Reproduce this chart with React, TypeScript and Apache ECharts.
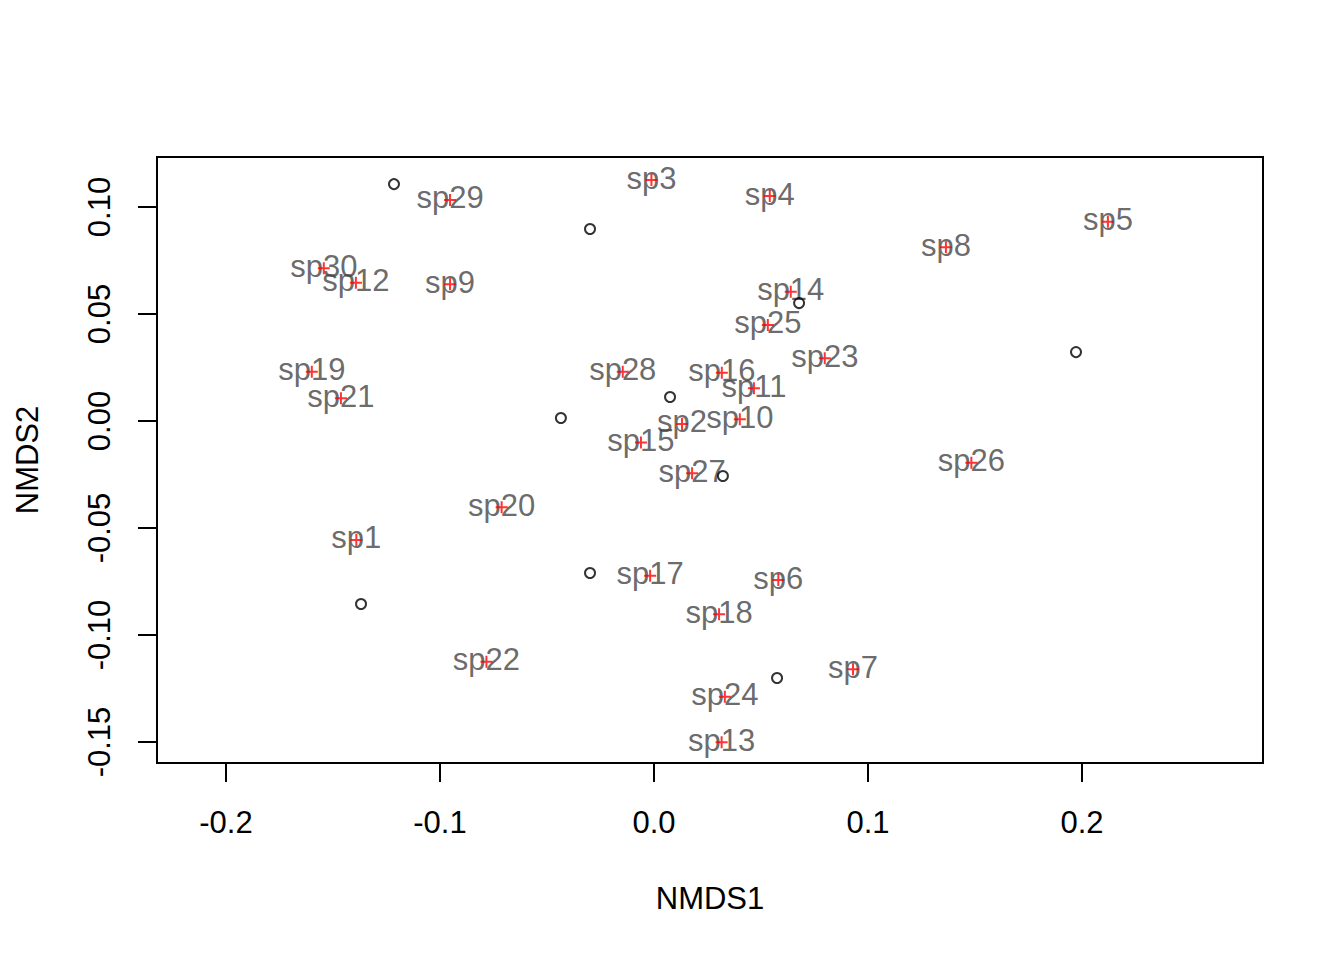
import React, { useEffect, useRef } from "react";
import * as echarts from "echarts";

const siteX = [-0.1215, -0.0299, 0.0075, -0.0435, 0.0678, 0.1972, 0.0322, -0.1369, -0.0299, 0.0575];
const siteY = [0.1107, 0.0897, 0.0112, 0.0014, 0.0551, 0.0322, -0.0257, -0.0855, -0.071, -0.1201];

const speciesNames = [
  "sp1", "sp2", "sp3", "sp4", "sp5", "sp6", "sp7", "sp8", "sp9", "sp10",
  "sp11", "sp12", "sp13", "sp14", "sp15", "sp16", "sp17", "sp18", "sp19", "sp20",
  "sp21", "sp22", "sp23", "sp24", "sp25", "sp26", "sp27", "sp28", "sp29", "sp30",
];
const speciesX = [
  -0.1391, 0.0131, -0.0012, 0.0541, 0.2121, 0.0581, 0.093, 0.1364, -0.0953, 0.0401,
  0.0467, -0.1393, 0.0316, 0.0639, -0.0061, 0.0317, -0.0018, 0.0304, -0.1599, -0.0712,
  -0.1463, -0.0783, 0.0798, 0.0331, 0.0532, 0.1483, 0.0178, -0.0146, -0.0953, -0.1543,
];
const speciesY = [
  -0.0556, -0.0014, 0.1126, 0.1051, 0.0931, -0.0743, -0.116, 0.0812, 0.0639, 0.0008,
  0.0153, 0.0646, -0.1501, 0.0604, -0.0101, 0.0226, -0.0723, -0.0903, 0.023, -0.0403,
  0.0106, -0.1125, 0.0293, -0.1288, 0.0449, -0.0195, -0.0244, 0.023, 0.1033, 0.0714,
];

const xTicks = [-0.2, -0.1, 0.0, 0.1, 0.2];
const yTicks = [-0.15, -0.1, -0.05, 0.0, 0.05, 0.1];

const FONT = "'Liberation Sans', Arial, sans-serif";

export default function App() {
  const ref = useRef<HTMLDivElement>(null);
  useEffect(() => {
    if (!ref.current) return;
    const chart = echarts.init(ref.current, null, { renderer: "svg" });
    const sites = siteX.map((x, i) => [x, siteY[i]]);
    const species = speciesNames.map((n, i) => ({ name: n, value: [speciesX[i], speciesY[i]] }));
    chart.setOption({
      animation: false,
      backgroundColor: "#ffffff",
      grid: {
        left: 157,
        top: 157,
        width: 1106,
        height: 606,
        show: true,
        borderColor: "#000",
        borderWidth: 2,
        backgroundColor: "transparent",
      },
      xAxis: {
        type: "value",
        min: -0.23224,
        max: 0.28458,
        name: "NMDS1",
        nameLocation: "middle",
        nameGap: 120,
        nameTextStyle: { fontFamily: FONT, fontSize: 31, color: "#000" },
        axisLine: { show: false, onZero: false },
        splitLine: { show: false },
        axisTick: {
          show: true,
          length: 19,
          customValues: xTicks,
          lineStyle: { color: "#000", width: 2 },
        },
        axisLabel: {
          customValues: xTicks,
          margin: 44,
          fontFamily: FONT,
          fontSize: 31,
          color: "#000",
          formatter: (v: number) => v.toFixed(1),
        },
      },
      yAxis: {
        type: "value",
        min: -0.15981,
        max: 0.12336,
        name: "NMDS2",
        nameLocation: "middle",
        nameGap: 114,
        nameRotate: 90,
        nameTextStyle: { fontFamily: FONT, fontSize: 31, color: "#000" },
        axisLine: { show: false, onZero: false },
        splitLine: { show: false },
        axisTick: {
          show: true,
          length: 19,
          customValues: yTicks,
          lineStyle: { color: "#000", width: 2 },
        },
        axisLabel: {
          customValues: yTicks,
          rotate: 90,
          margin: 42,
          fontFamily: FONT,
          fontSize: 31,
          color: "#000",
          formatter: (v: number) => v.toFixed(2),
        },
      },
      series: [
        {
          type: "scatter",
          z: 2,
          data: species,
          symbolSize: 0,
          silent: true,
          label: {
            show: true,
            position: "inside",
            offset: [0, -2],
            formatter: (p: any) => p.name,
            fontFamily: FONT,
            fontSize: 31,
            color: "#444444",
          },
        },
        {
          type: "scatter",
          z: 3,
          data: species.map((s) => s.value),
          symbol: "path://M5,0 L5,10 M0,5 L10,5",
          symbolSize: 12,
          itemStyle: { color: "rgba(0,0,0,0)", borderColor: "#FF0000", borderWidth: 2 },
          silent: true,
        },
        {
          type: "scatter",
          z: 4,
          data: sites,
          symbol: "circle",
          symbolSize: 10,
          itemStyle: { color: "rgba(0,0,0,0)", borderColor: "#000", borderWidth: 2 },
          silent: true,
        },
      ],
    });
    return () => chart.dispose();
  }, []);
  return (
    <div
      ref={ref}
      style={{ position: "absolute", left: 0, top: 0, width: 1344, height: 960, background: "#fff" }}
    />
  );
}
